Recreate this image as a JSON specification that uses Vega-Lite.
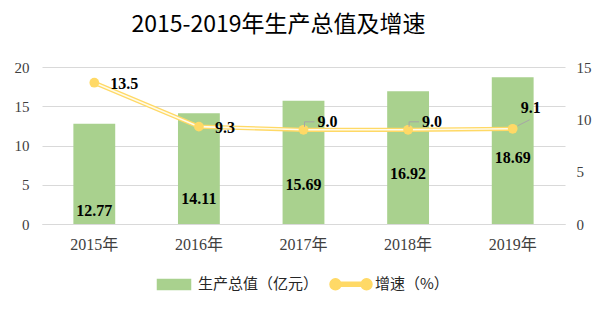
{
  "$schema": "https://vega.github.io/schema/vega-lite/v6.json",
  "width": 523,
  "height": 157,
  "autosize": {"type": "none"},
  "padding": {"left": 42, "top": 67, "right": 40, "bottom": 85},
  "background": "white",
  "title": {
    "text": "2015-2019年生产总值及增速",
    "font": "Noto Sans CJK SC",
    "fontSize": 23,
    "fontWeight": "normal",
    "color": "#000000",
    "anchor": "middle",
    "dx": -25,
    "offset": 23
  },
  "config": {"view": {"stroke": null}},
  "data": {
    "values": [
      {"year": "2015年", "gdp": 12.77, "rate": 13.5},
      {"year": "2016年", "gdp": 14.11, "rate": 9.3},
      {"year": "2017年", "gdp": 15.69, "rate": 9.0},
      {"year": "2018年", "gdp": 16.92, "rate": 9.0},
      {"year": "2019年", "gdp": 18.69, "rate": 9.1}
    ]
  },
  "encoding": {
    "x": {
      "field": "year",
      "type": "nominal",
      "sort": null,
      "title": null,
      "scale": {"paddingInner": 0.6, "paddingOuter": 0.3},
      "axis": {
        "labelAngle": 0,
        "labelFont": "Liberation Serif, Noto Sans CJK SC",
        "labelFontSize": 16,
        "labelColor": "#404040",
        "labelPadding": 12,
        "ticks": false,
        "domainColor": "#D9D9D9",
        "domainWidth": 1
      }
    }
  },
  "layer": [
    {
      "mark": {"type": "bar", "color": "#A9D18E"},
      "encoding": {
        "y": {
          "field": "gdp",
          "type": "quantitative",
          "title": null,
          "scale": {"domain": [0, 20]},
          "axis": {
            "orient": "left",
            "values": [0, 5, 10, 15, 20],
            "labelFont": "Liberation Serif",
            "labelFontSize": 15,
            "labelColor": "#404040",
            "labelPadding": 13,
            "ticks": false,
            "domain": false,
            "gridColor": "#D9D9D9",
            "gridWidth": 1
          }
        },
        "color": {
          "datum": "生产总值（亿元）",
          "type": "nominal",
          "scale": {"domain": ["生产总值（亿元）", "增速（%）"], "range": ["#A9D18E", "#FFD966"]},
          "legend": {
            "title": null,
            "orient": "none",
            "legendX": 110,
            "legendY": 195,
            "direction": "horizontal",
            "labelFont": "Noto Sans CJK SC",
            "labelFontSize": 15,
            "labelColor": "#262626",
            "symbolSize": 1764,
            "labelOffset": 2,
            "columnPadding": 8,
            "encode": {
              "symbols": {
                "update": {
                  "shape": {"signal": "datum.value == '生产总值（亿元）' ? 'M-0.786,-0.24H0.786V0.24H-0.786Z' : 'M-1,0A0.26,0.26 0 1,1 -0.48,0A0.26,0.26 0 1,1 -1,0Z M-0.74,-0.1H0.74V-0.03H-0.74Z M-0.74,0.03H0.74V0.1H-0.74Z M0.48,0A0.26,0.26 0 1,1 1,0A0.26,0.26 0 1,1 0.48,0Z'"},
                  "fill": {"signal": "datum.value == '生产总值（亿元）' ? '#A9D18E' : '#FFD966'"},
                  "stroke": {"value": "transparent"},
                  "opacity": {"value": 1},
                  "fillOpacity": {"value": 1}
                }
              }
            }
          }
        }
      }
    },
    {
      "encoding": {
        "y": {
          "field": "rate",
          "type": "quantitative",
          "title": null,
          "scale": {"domain": [0, 15]},
          "axis": {
            "orient": "right",
            "values": [0, 5, 10, 15],
            "grid": false,
            "labelFont": "Liberation Serif",
            "labelFontSize": 15,
            "labelColor": "#404040",
            "labelPadding": 11,
            "ticks": false,
            "domain": false
          }
        }
      },
      "layer": [
        {
          "mark": {"type": "line", "color": "#FFD966", "strokeWidth": 4.2},
          "encoding": {"color": {"datum": "增速（%）", "type": "nominal"}}
        },
        {
          "mark": {"type": "line", "color": "#FFFBEA", "strokeWidth": 1.6},
          "encoding": {}
        },
        {
          "mark": {"type": "point", "filled": true, "color": "#FFD966", "size": 95, "opacity": 1},
          "encoding": {}
        },
        {
          "transform": [{"filter": "datum.year == '2017年' || datum.year == '2018年'"}],
          "mark": {"type": "rule", "color": "#A6A6A6", "strokeWidth": 1, "xOffset": 1, "x2Offset": 1, "yOffset": -3, "y2Offset": -8},
          "encoding": {"x2": {"field": "year"}, "y2": {"field": "rate"}}
        },
        {
          "transform": [{"filter": "datum.year == '2017年' || datum.year == '2018年'"}],
          "mark": {"type": "rule", "color": "#A6A6A6", "strokeWidth": 1, "xOffset": 1, "x2Offset": 11, "yOffset": -8, "y2Offset": -8},
          "encoding": {"x2": {"field": "year"}, "y2": {"field": "rate"}}
        },
        {
          "transform": [{"filter": "datum.year == '2019年'"}],
          "mark": {"type": "rule", "color": "#A6A6A6", "strokeWidth": 1, "xOffset": 5, "x2Offset": 17, "yOffset": -3, "y2Offset": -9},
          "encoding": {"x2": {"field": "year"}, "y2": {"field": "rate"}}
        },
        {
          "transform": [{"filter": "datum.year == '2015年' || datum.year == '2016年'"}],
          "mark": {"type": "text", "font": "Liberation Serif", "fontWeight": "bold", "fontSize": 16, "color": "#000000", "align": "left", "baseline": "middle", "dx": 16, "dy": 1},
          "encoding": {"text": {"field": "rate", "format": ".1f"}}
        },
        {
          "transform": [{"filter": "datum.year == '2017年' || datum.year == '2018年'"}],
          "mark": {"type": "text", "font": "Liberation Serif", "fontWeight": "bold", "fontSize": 16, "color": "#000000", "align": "left", "baseline": "middle", "dx": 14, "dy": -8},
          "encoding": {"text": {"field": "rate", "format": ".1f"}}
        },
        {
          "transform": [{"filter": "datum.year == '2019年'"}],
          "mark": {"type": "text", "font": "Liberation Serif", "fontWeight": "bold", "fontSize": 16, "color": "#000000", "align": "center", "baseline": "middle", "dx": 18, "dy": -21},
          "encoding": {"text": {"field": "rate", "format": ".1f"}}
        }
      ]
    },
    {
      "mark": {"type": "text", "font": "Liberation Serif", "fontWeight": "bold", "fontSize": 16, "color": "#000000", "align": "center", "baseline": "middle"},
      "encoding": {
        "y": {"field": "gdp", "type": "quantitative", "scale": {"domain": [11.32, 28.86]}, "axis": null},
        "text": {"field": "gdp", "format": ".2f"}
      }
    }
  ],
  "resolve": {"scale": {"y": "independent", "color": "shared"}}
}
